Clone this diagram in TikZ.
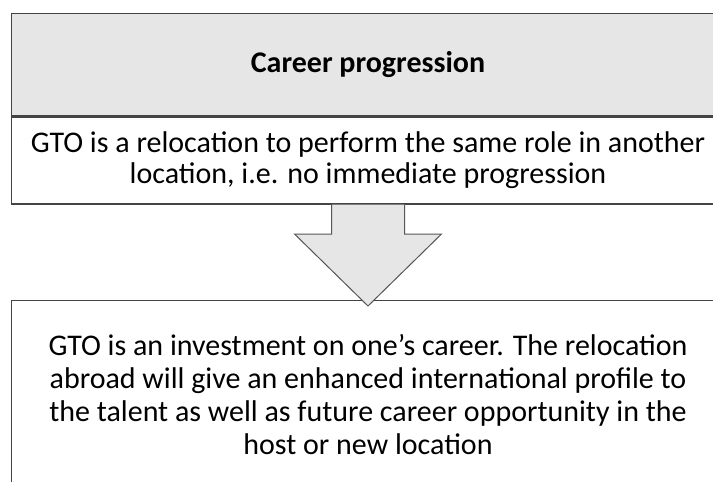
\documentclass[tikz,border=0pt]{standalone}
\usepackage{fontspec}
\setmainfont{Carlito}
\definecolor{headgray}{HTML}{E7E6E6}
\definecolor{linegray}{HTML}{444444}
\definecolor{arrowfill}{HTML}{E6E6E6}
\definecolor{arrowline}{HTML}{555555}
\tikzset{
  panel/.style={draw=linegray, line width=1.5pt, anchor=north west, inner sep=0pt,
    minimum width=713.5pt, align=center, text=black},
  headpanel/.style={panel, fill=headgray, font=\fontsize{30}{32}\selectfont\bfseries},
  bodypanel/.style={panel, fill=white},
  downarrow/.style={draw=arrowline, fill=arrowfill, line width=1pt, line join=miter}
}
\begin{document}
\begin{tikzpicture}[x=1pt,y=-1pt]
\useasboundingbox (0,0) rectangle (713,482);
\fill[white] (0,0) rectangle (713,482);
\node[headpanel, minimum height=102.5pt] (head) at (10.5,12.5) {Career progression};
\node[bodypanel, minimum height=86.5pt, font=\fontsize{30}{31}\selectfont] (desc) at (head.south west)
  {GTO is a relocation to perform the same role in another\\location, i.e. no immediate progression};
\node[bodypanel, minimum height=188pt, font=\fontsize{30}{33}\selectfont] (result) at (10.5,299.5)
  {GTO is an investment on one’s career. The relocation\\abroad will give an enhanced international profile to\\the talent as well as future career opportunity in the\\host or new location};
\draw[downarrow] ([xshift=-36.5pt]desc.south) -- ++(0,29.5) -- ++(-37,0)
  -- ([yshift=-101.5pt]desc.south) -- ([xshift=73.5pt,yshift=-29.5pt]desc.south)
  -- ++(-37,0) -- ([xshift=36.5pt]desc.south);
\end{tikzpicture}
\end{document}
